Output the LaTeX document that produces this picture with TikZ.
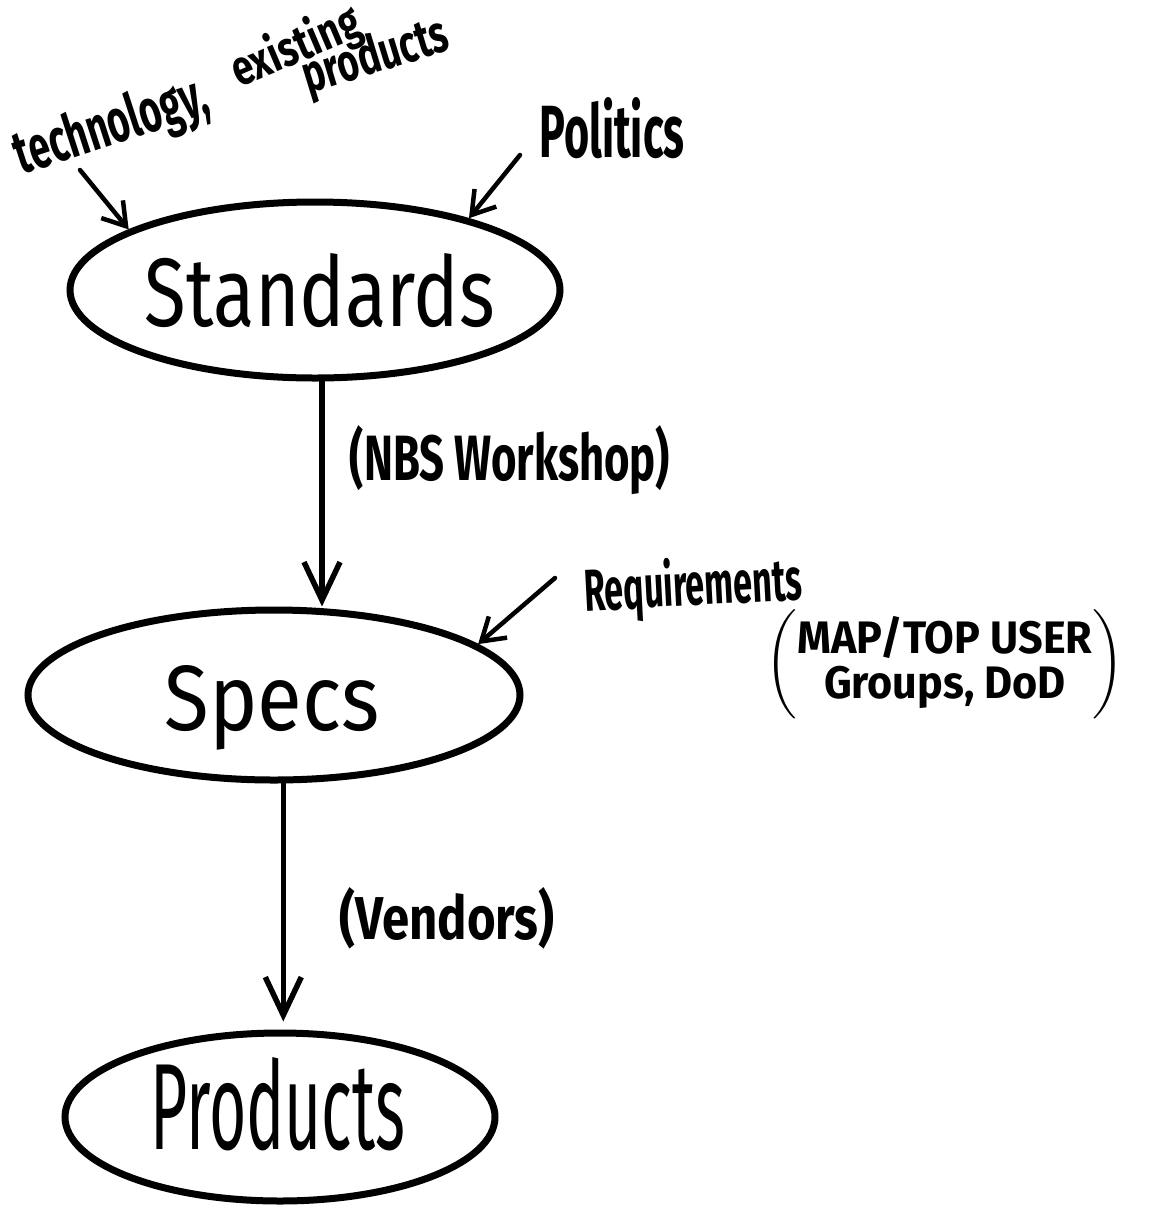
\documentclass[tikz,border=0pt]{standalone}
\usepackage{fontspec}
\setmainfont{Fira Sans}
\usepackage{graphicx}
\usetikzlibrary{shapes.geometric,arrows.meta}
% box a text to a given width and height
\newcommand\fitto[3]{\resizebox{#1}{#2}{#3}}
\newcommand\fitbf[3]{\resizebox{#1}{#2}{\bfseries #3}}
\begin{document}
\begin{tikzpicture}[x=1pt,y=-1pt,
  bubble/.style={ellipse, draw, line width=7pt, inner sep=0pt},
  flow/.style={line width=5.5pt, line cap=round,
    -{Straight Barb[length=38pt,width=36pt,line width=5.5pt]}},
  hint/.style={line width=4.5pt, line cap=round,
    -{Straight Barb[length=22pt,width=28pt,line width=4.5pt]}},
  txt/.style={inner sep=0pt, outer sep=0pt}]
\fill[white] (0,0) rectangle (1153,1219);
\useasboundingbox (0,0) rectangle (1153,1219);

% the three stages
\node[bubble, minimum width=490pt, minimum height=176pt] (std) at (315,290) {};
\node[bubble, minimum width=492pt, minimum height=170pt] (spc) at (274,695) {};
\node[bubble, minimum width=430pt, minimum height=168pt] (prd) at (280,1117) {};

\node[txt] (stdt) at (320,291) {\fitto{350pt}{73pt}{Standards}};
\node[txt, anchor=base] (spct) at (272,730) {\fitto{215pt}{65pt}{Specs}};
\node[txt] (prdt) at (278,1104) {\fitto{255pt}{92pt}{Products}};

% flow between stages
\draw[flow] (std.south) ++(7,0) coordinate (a1) -- (a1 |- spc.north);
\draw[flow, shorten >=8pt] (spc.-84) -- (spc.-84 |- prd.north);

% side labels
\node[txt] (nbs) at (510,460) {\fitbf{320pt}{55pt}{(NBS Workshop)}};
\node[txt] (ven) at (447,918) {\fitbf{215pt}{52pt}{(Vendors)}};

% influences on the standards
\node[txt, rotate=18] (tech) at (112,128) {\fitbf{200pt}{46pt}{technology,}};
\node[txt, rotate=23] (exist) at (296,48) {\fitbf{136pt}{40pt}{existing}};
\node[txt, rotate=17] (prods) at (376,58) {\fitbf{150pt}{40pt}{products}};
\node[txt] (pol) at (612,128) {\fitbf{145pt}{60pt}{Politics}};
\coordinate (t1) at (80,170);
\coordinate (p1) at (520,155);
\draw[hint] (t1) -- (std.162);
\draw[hint] (p1) -- (std.25);

% influences on the specs
\node[txt, rotate=3] (req) at (693,588) {\fitbf{218pt}{48pt}{Requirements}};
\node[txt] (grp) at (945,664) {\fitbf{358pt}{66pt}{$\left(\mbox{\renewcommand\arraystretch{0.8}\begin{tabular}{@{}c@{}}MAP/TOP USER\\ Groups, DoD\end{tabular}}\right)$}};
\coordinate (r1) at (555,578);
\draw[hint] (r1) -- (spc.14);
\end{tikzpicture}
\end{document}
